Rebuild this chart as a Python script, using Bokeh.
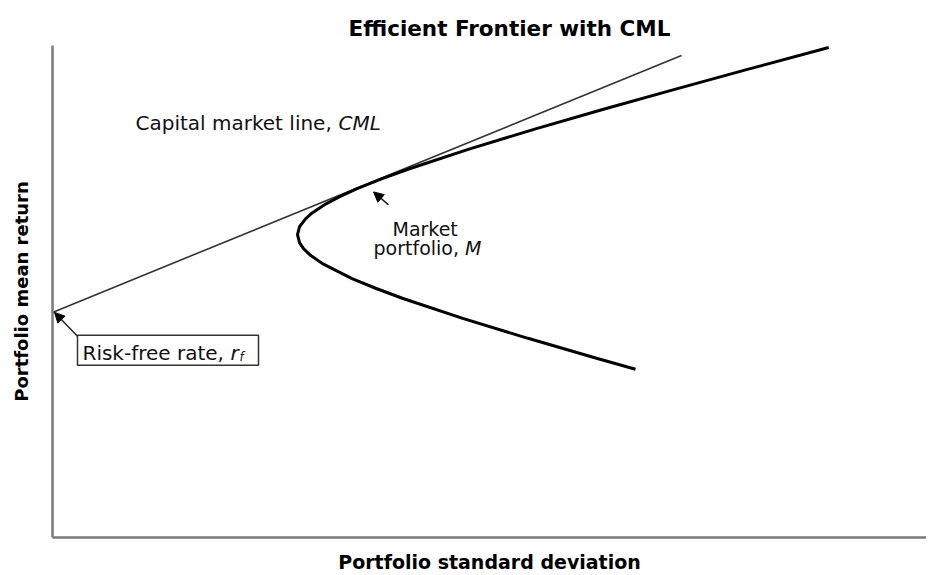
from bokeh.plotting import figure
from bokeh.models import Range1d, FixedTicker, Label, Arrow, NormalHead, BoxAnnotation
from bokeh.embed import file_html
from bokeh.resources import INLINE

# Efficient frontier (portfolio standard deviation vs mean return)
frontier_sd = [23.32, 21.76, 19.02, 16.41, 14.02, 12.95, 11.98, 10.80, 10.29, 10.04, 9.88,
               9.80, 9.88, 10.12, 10.34, 10.94, 11.47, 12.16, 13.16, 14.25, 16.66, 19.29,
               22.04, 24.89, 27.80, 31.05]
frontier_mean = [6.76, 7.20, 8.00, 8.80, 9.60, 10.00, 10.40, 11.00, 11.36, 11.60, 11.84,
                 12.16, 12.48, 12.80, 13.00, 13.40, 13.68, 14.00, 14.40, 14.80, 15.60, 16.40,
                 17.20, 18.00, 18.80, 19.68]

# Capital market line
cml_sd = [0.0, 25.16]
cml_mean = [9.04, 19.36]

FONT = "DejaVu Sans"

p = figure(width=926, height=575, output_backend="svg", toolbar_location=None,
           x_range=Range1d(0, 34.96), y_range=Range1d(0, 19.76),
           min_border_left=52, min_border_right=0, min_border_top=45, min_border_bottom=36)

p.title.text = "Efficient Frontier with CML"
p.title.align = "left"
p.title.offset = 296
p.title.text_font = FONT
p.title.text_font_size = "21.5px"
p.title.text_font_style = "bold"
p.title.text_color = "black"
p.title.standoff = 9

p.outline_line_color = None
p.xgrid.visible = False
p.ygrid.visible = False

for ax in (p.xaxis[0], p.yaxis[0]):
    ax.ticker = FixedTicker(ticks=[])
    ax.major_tick_in = 0
    ax.major_tick_out = 0
    ax.minor_tick_in = 0
    ax.minor_tick_out = 0
    ax.major_label_standoff = 0
    ax.axis_line_color = "#7a7a7a"
    ax.axis_line_width = 2.5
    ax.axis_label_text_font = FONT
    ax.axis_label_text_font_style = "bold"
    ax.axis_label_text_color = "black"

p.xaxis.axis_label = "Portfolio standard deviation"
p.xaxis.axis_label_text_font_size = "19px"
p.xaxis.axis_label_standoff = 13
p.yaxis.axis_label = "Portfolio mean return"
p.yaxis.axis_label_text_font_size = "18px"
p.yaxis.axis_label_standoff = 21

p.line(cml_sd, cml_mean, line_color="#333333", line_width=1.6)
p.line(frontier_sd, frontier_mean, line_color="black", line_width=3)

# Text annotations
p.add_layout(Label(x=3.32, y=16.64, text="Capital market line, ", text_font=FONT,
                   text_font_size="20px", text_baseline="alphabetic", text_color="#111111"))
p.add_layout(Label(x=3.32, y=16.64, x_offset=203, text="CML", text_font=FONT,
                   text_font_size="20px", text_font_style="italic",
                   text_baseline="alphabetic", text_color="#111111"))

p.add_layout(Label(x=13.6, y=12.4, text="Market", text_font=FONT,
                   text_font_size="19px", text_baseline="alphabetic", text_color="#111111"))
p.add_layout(Label(x=12.84, y=11.64, text="portfolio, ", text_font=FONT,
                   text_font_size="19px", text_baseline="alphabetic", text_color="#111111"))
p.add_layout(Label(x=12.84, y=11.64, x_offset=91.5, text="M", text_font=FONT,
                   text_font_size="19px", text_font_style="italic",
                   text_baseline="alphabetic", text_color="#111111"))

p.add_layout(BoxAnnotation(left=1.0, right=8.24, bottom=6.92, top=8.12,
                           fill_color="white", fill_alpha=1.0,
                           line_color="#333333", line_alpha=1.0, line_width=1.5))
p.add_layout(Label(x=1.2, y=7.40, text="Risk-free rate, ", text_font=FONT,
                   text_font_size="20px", text_baseline="alphabetic", text_color="#111111"))
p.add_layout(Label(x=1.2, y=7.40, x_offset=148, text="r", text_font=FONT,
                   text_font_size="20px", text_font_style="italic",
                   text_baseline="alphabetic", text_color="#111111"))
p.add_layout(Label(x=1.2, y=7.40, x_offset=157, y_offset=-4, text="f", text_font=FONT,
                   text_font_size="12px", text_font_style="italic",
                   text_baseline="alphabetic", text_color="#111111"))

# Arrows
p.add_layout(Arrow(end=NormalHead(size=10, fill_color="black", line_color="black"),
                   x_start=1.0, y_start=8.08, x_end=0.08, y_end=9.04,
                   line_color="#222222", line_width=1.5))
p.add_layout(Arrow(end=NormalHead(size=10, fill_color="black", line_color="black"),
                   x_start=13.44, y_start=13.36, x_end=12.84, y_end=13.88,
                   line_color="#222222", line_width=1.5))

open("out.html", "w").write(file_html(p, INLINE))
